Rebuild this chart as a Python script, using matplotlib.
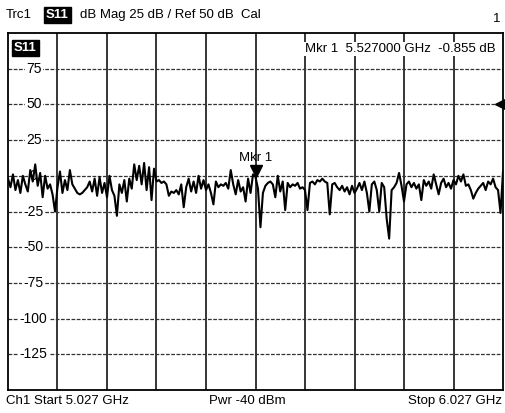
import numpy as np
import matplotlib
matplotlib.use('Agg')
import matplotlib.pyplot as plt
from matplotlib import font_manager

# pick a condensed font if available
names = {f.name for f in font_manager.fontManager.ttflist}
fam = 'Liberation Sans Narrow' if 'Liberation Sans Narrow' in names else 'Liberation Sans'
plt.rcParams['font.family'] = [fam, 'DejaVu Sans']
fs = 11 if fam == 'Liberation Sans Narrow' else 9.5

# sweep settings
f_start, f_stop, n_points = 5.027, 6.027, 201
freq = np.linspace(f_start, f_stop, n_points)

# S11 magnitude (dB)
s11_db = [
    -2, -8, 1, -10, -3, -12, 0, -6, -11, 4,
    -4, 8, -7, 2, -15, 0, -9, -6, -13, -25,
    -8, 3, -12, -3, -10, 4, -6, -9, -12, -13,
    -12, -10, -8, -4, -11, -2, -14, -1, -12, -5,
    -15, 0, -10, -14, -28, -6, -12, -3, -18, -2,
    -9, 8, -3, 7, -6, 9, -10, 6, -17, 5,
    -4, -3, -5, -4, -6, -14, -11, -12, -10, -13,
    -6, -22, -8, -2, -11, -4, -12, 0, -9, -3,
    -10, -6, -12, -20, -4, -8, -6, -7, -5, -9,
    4, -6, -13, -3, -11, -8, -18, -2, -12, 1,
    -0.855, -9, -36, -12, -7, -5, -4, -6, -15, 0,
    -11, -4, -24, -5, -8, -6, -7, -5, -9, -8,
    -10, -24, -5, -4, -6, -3, -4, -2, -4, -5,
    -27, -6, -5, -8, -10, -7, -11, -8, -13, -7,
    -12, -9, -5, -10, -4, -12, -25, -6, -4, -10,
    -25, -5, -8, -30, -44, -10, -8, -5, 2, -7,
    -18, -6, -4, -8, -5, -9, -6, -17, -3, -7,
    -4, -9, 1, -6, -13, -5, -2, -8, -5, -9,
    -3, -6, 0, -4, 1, -7, -6, -10, -16, -12,
    -9, -7, -5, -10, -4, -6, -2, -8, -10, -26,
    3,
]

y_ticks = [75, 50, 25, 0, -25, -50, -75, -100, -125]
y_top, y_bottom = 100, -150
ref_level = 50
mkr_freq = 5.527
mkr_val = -0.855

fig = plt.figure(figsize=(5.05, 4.13), dpi=100)
ax = fig.add_axes([8 / 505, 1 - 390 / 413, 495 / 505, 357 / 413])
ax.set_xlim(f_start, f_stop)
ax.set_ylim(y_bottom, y_top)
ax.set_xticks([])
ax.set_yticks([])
for s in ax.spines.values():
    s.set_linewidth(1.3)
    s.set_color('black')

# grid
for xv in np.linspace(f_start, f_stop, 11)[1:-1]:
    ax.axvline(xv, color='black', lw=1.1, zorder=1)
for yv in range(-125, 100, 25):
    ax.axhline(yv, color='#333333', lw=0.9, ls=(0, (3, 1.2)), zorder=1)

# y labels inside the grid
for yv in y_ticks:
    ax.text(0.052, yv, str(yv), transform=ax.get_yaxis_transform(),
            ha='center', va='center', fontsize=fs + 0.5, zorder=2,
            bbox=dict(boxstyle='square,pad=0.1', fc='white', ec='none'))

# trace
ax.plot(freq, s11_db, color='black', lw=1.5, zorder=3)

# marker
ax.plot(mkr_freq, mkr_val + 4, marker='v', color='black', ms=9, zorder=4,
        clip_on=False)
ax.text(mkr_freq, mkr_val + 9, 'Mkr 1', ha='center', va='bottom', fontsize=fs,
        zorder=4)

# reference level arrow at right edge
ax.plot(f_stop - 0.004, ref_level, marker='<', color='black', ms=9,
        clip_on=False, zorder=4)

# marker readout and trace label
ax.text(0.985, 0.955, 'Mkr 1  5.527000 GHz  -0.855 dB', transform=ax.transAxes,
        ha='right', va='center', fontsize=fs,
        bbox=dict(boxstyle='square,pad=0.1', fc='white', ec='none'))
ax.text(0.012, 0.958, 'S11', transform=ax.transAxes, ha='left', va='center',
        fontsize=fs, fontweight='bold', color='white',
        bbox=dict(boxstyle='square,pad=0.15', fc='black', ec='black'))

# header
fig.text(6 / 505, 1 - 15 / 413, 'Trc1', ha='left', va='center', fontsize=fs)
fig.text(46 / 505, 1 - 15 / 413, 'S11', ha='left', va='center', fontsize=fs,
         fontweight='bold', color='white',
         bbox=dict(boxstyle='square,pad=0.15', fc='black', ec='black'))
fig.text(80 / 505, 1 - 15 / 413, 'dB Mag 25 dB / Ref 50 dB  Cal', ha='left',
         va='center', fontsize=fs)
fig.text(500 / 505, 1 - 19 / 413, '1', ha='right', va='center', fontsize=fs)

# footer
fig.text(6 / 505, 1 - 401 / 413, 'Ch1 Start 5.027 GHz', ha='left',
         va='center', fontsize=fs)
fig.text(247 / 505, 1 - 401 / 413, 'Pwr -40 dBm', ha='center', va='center',
         fontsize=fs)
fig.text(502 / 505, 1 - 401 / 413, 'Stop 6.027 GHz', ha='right', va='center',
         fontsize=fs)

fig.savefig('out.png', dpi=100, facecolor='white')
